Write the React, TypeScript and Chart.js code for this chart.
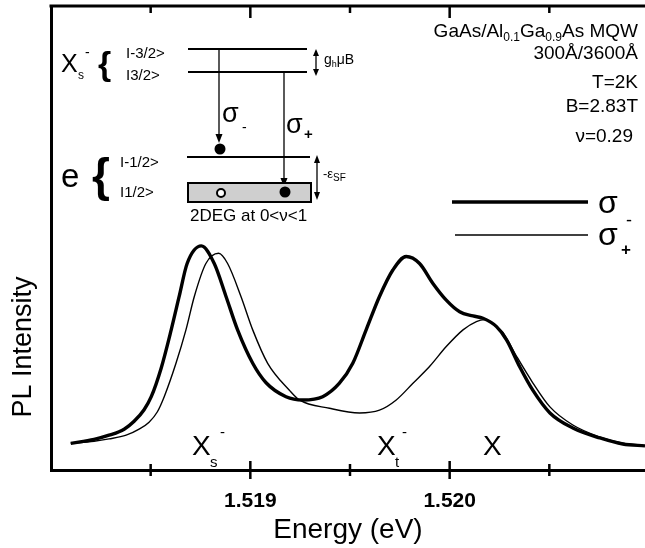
import React, { useEffect, useRef } from "react";
import { Chart, registerables } from "chart.js";

Chart.register(...registerables);

// ---- data ----
const sigmaMinusEnergy = [
  1.518099, 1.518216, 1.518291, 1.518367, 1.518417, 1.518467, 1.518503, 1.518553, 1.518603, 1.518643,
  1.518683, 1.518754, 1.518819, 1.518878, 1.518936, 1.519012, 1.519079, 1.519179, 1.519263,
  1.519363, 1.519447, 1.519514, 1.519581, 1.519648, 1.519715, 1.519782, 1.519849, 1.519916, 1.519983,
  1.52005, 1.520117, 1.520167, 1.520235, 1.520286, 1.520352, 1.520417, 1.520503, 1.520618, 1.520754,
  1.520869, 1.52098,
];
const sigmaMinusIntensity = [
  5.75, 6.6, 7.5, 8.8, 10.5, 13.0, 15.8, 22.0, 30.2, 37.4,
  44.5, 48.3, 44.5, 37.4, 30.2, 23.0, 18.8, 15.8, 15.1,
  15.8, 18.7, 23.0, 30.2, 37.4, 43.1, 46.0, 44.5, 40.2, 36.6,
  34.1, 33.2, 32.7, 30.9, 28.0, 22.2, 17.2, 12.3, 9.05, 6.9,
  5.6, 5.2,
];
const sigmaPlusEnergy = [
  1.518099, 1.518216, 1.518291, 1.518377, 1.518442, 1.518492, 1.518533, 1.518568, 1.518627, 1.518677,
  1.518719, 1.518777, 1.518841, 1.518886, 1.518953, 1.519012, 1.519087, 1.519196, 1.519246, 1.519397,
  1.519548, 1.519648, 1.519732, 1.519816, 1.519899, 1.519983, 1.520067, 1.520134, 1.520176, 1.520235,
  1.520266, 1.520337, 1.520417, 1.520503, 1.520618, 1.520754, 1.520869, 1.52098,
];
const sigmaPlusIntensity = [
  5.75, 6.2, 6.7, 7.5, 8.8, 10.3, 12.5, 15.8, 23.0, 30.2,
  37.4, 44.5, 46.7, 44.5, 37.4, 30.2, 23.0, 17.2, 15.1, 13.3,
  12.3, 12.9, 15.1, 18.7, 22.3, 26.6, 30.2, 32.0, 32.4, 30.9,
  29.7, 24.4, 18.8, 13.6, 9.7, 7.1, 5.8, 5.2,
];
const tickValues = [1.5185, 1.519, 1.5195, 1.52, 1.5205];
const tickLabels = ["", "1.519", "", "1.520", ""];
const majorTicks = [false, true, false, true, false];
const xMin = 1.518;
const xMax = 1.52098;

const FONT = '"Liberation Sans", Arial, Helvetica, sans-serif';
const f = (size: number, bold = false) => `${bold ? "bold " : ""}${size}px ${FONT}`;

type Part = { t: string; s: number; dy?: number; b?: boolean };
function drawParts(ctx: CanvasRenderingContext2D, parts: Part[], x: number, y: number, align: "left" | "right" = "left") {
  let w = 0;
  parts.forEach((p) => {
    ctx.font = f(p.s, p.b);
    w += ctx.measureText(p.t).width;
  });
  let cx = align === "right" ? x - w : x;
  ctx.textAlign = "left";
  ctx.textBaseline = "alphabetic";
  parts.forEach((p) => {
    ctx.font = f(p.s, p.b);
    ctx.fillText(p.t, cx, y + (p.dy || 0));
    cx += ctx.measureText(p.t).width;
  });
}

function line(ctx: CanvasRenderingContext2D, x1: number, y1: number, x2: number, y2: number, w: number) {
  ctx.lineWidth = w;
  ctx.beginPath();
  ctx.moveTo(x1, y1);
  ctx.lineTo(x2, y2);
  ctx.stroke();
}

function head(ctx: CanvasRenderingContext2D, x: number, y: number, dir: number, len = 8, half = 3.5) {
  ctx.beginPath();
  ctx.moveTo(x, y);
  ctx.lineTo(x - half, y - dir * len);
  ctx.lineTo(x + half, y - dir * len);
  ctx.closePath();
  ctx.fill();
}

const annotations = {
  id: "annotations",
  afterDraw(chart: any) {
    const ctx: CanvasRenderingContext2D = chart.ctx;
    const { left, right, top, bottom } = chart.chartArea;
    const xs = chart.scales.x;
    ctx.save();
    ctx.strokeStyle = "#000";
    ctx.fillStyle = "#000";
    ctx.lineCap = "butt";

    // top frame line
    line(ctx, left - 1.5, top, right, top, 3);
    // ticks (top inside, bottom crossing)
    tickValues.forEach((v, i) => {
      const px = xs.getPixelForValue(v);
      const maj = majorTicks[i];
      line(ctx, px, top, px, top + (maj ? 12 : 7), 2.5);
      line(ctx, px, bottom - (maj ? 9 : 6), px, bottom + (maj ? 9 : 6), 2.5);
    });

    // y axis title
    ctx.save();
    ctx.translate(31, 347);
    ctx.rotate(-Math.PI / 2);
    ctx.font = f(27);
    ctx.textAlign = "center";
    ctx.textBaseline = "alphabetic";
    ctx.fillText("PL Intensity", 0, 0);
    ctx.restore();

    // ---- inset level diagram ----
    drawParts(ctx, [{ t: "X", s: 25 }], 61, 72);
    drawParts(ctx, [{ t: "s", s: 12 }], 78, 79);
    drawParts(ctx, [{ t: "-", s: 14 }], 85, 57);
    ctx.font = f(34, true);
    ctx.textAlign = "left";
    ctx.fillText("{", 98, 75);
    drawParts(ctx, [{ t: "I-3/2>", s: 15 }], 126, 58);
    drawParts(ctx, [{ t: "I3/2>", s: 15 }], 126, 80);
    line(ctx, 188, 49, 307, 49, 2);
    line(ctx, 188, 72, 307, 72, 2);
    // g_h mu B double arrow
    line(ctx, 316, 53, 316, 73, 1.3);
    head(ctx, 316, 49, -1, 7, 3);
    head(ctx, 316, 76, 1, 7, 3);
    drawParts(ctx, [{ t: "g", s: 14 }, { t: "h", s: 9, dy: 3 }, { t: "\u03bcB", s: 14 }], 324, 64);

    // sigma- transition
    line(ctx, 219, 49, 219, 136, 1.3);
    head(ctx, 219, 143, 1, 9, 3.5);
    ctx.beginPath();
    ctx.arc(220, 149, 5.5, 0, Math.PI * 2);
    ctx.fill();
    drawParts(ctx, [{ t: "\u03c3", s: 27 }], 222, 122);
    drawParts(ctx, [{ t: "-", s: 14 }], 242, 132);
    // sigma+ transition
    line(ctx, 284, 72, 284, 180, 1.3);
    head(ctx, 284, 187, 1, 9, 3.5);
    drawParts(ctx, [{ t: "\u03c3", s: 27 }], 286, 133);
    drawParts(ctx, [{ t: "+", s: 15, b: true }], 304, 139);

    // electron levels
    drawParts(ctx, [{ t: "e", s: 33 }], 61, 187);
    ctx.font = f(46, true);
    ctx.fillText("{", 92, 191);
    drawParts(ctx, [{ t: "I-1/2>", s: 15 }], 120, 167);
    drawParts(ctx, [{ t: "I1/2>", s: 15 }], 120, 197);
    line(ctx, 187, 157, 310, 157, 2);
    ctx.fillStyle = "#cfcfcf";
    ctx.fillRect(188, 183, 123, 19);
    ctx.fillStyle = "#000";
    ctx.lineWidth = 2;
    ctx.strokeRect(188, 183, 123, 19);
    ctx.beginPath();
    ctx.arc(285, 192, 5.5, 0, Math.PI * 2);
    ctx.fill();
    ctx.fillStyle = "#fff";
    ctx.beginPath();
    ctx.arc(221, 193, 4, 0, Math.PI * 2);
    ctx.fill();
    ctx.fillStyle = "#000";
    ctx.lineWidth = 2;
    ctx.stroke();
    // eps_SF double arrow
    line(ctx, 317, 161, 317, 195, 1.3);
    head(ctx, 317, 155, -1, 8, 3);
    head(ctx, 317, 200, 1, 8, 3);
    drawParts(ctx, [{ t: "-\u03b5", s: 13 }, { t: "SF", s: 10, dy: 3 }], 323, 178);
    drawParts(ctx, [{ t: "2DEG at 0<\u03bd<1", s: 17 }], 190, 221);

    // ---- sample info (top right) ----
    drawParts(
      ctx,
      [
        { t: "GaAs/Al", s: 19 },
        { t: "0.1", s: 12, dy: 4 },
        { t: "Ga", s: 19 },
        { t: "0.9", s: 12, dy: 4 },
        { t: "As MQW", s: 19 },
      ],
      638,
      37,
      "right"
    );
    drawParts(ctx, [{ t: "300\u00c5/3600\u00c5", s: 19 }], 638, 59, "right");
    drawParts(ctx, [{ t: "T=2K", s: 19 }], 638, 88, "right");
    drawParts(ctx, [{ t: "B=2.83T", s: 19 }], 638, 112, "right");
    drawParts(ctx, [{ t: "\u03bd=0.29", s: 19 }], 633, 142, "right");

    // ---- legend ----
    line(ctx, 452, 202, 588, 202, 3.5);
    line(ctx, 455, 235, 588, 235, 1.4);
    drawParts(ctx, [{ t: "\u03c3", s: 32 }], 598, 213);
    drawParts(ctx, [{ t: "-", s: 18 }], 626, 226);
    drawParts(ctx, [{ t: "\u03c3", s: 32 }], 598, 245);
    drawParts(ctx, [{ t: "+", s: 17, b: true }], 621, 255);

    // ---- peak labels ----
    drawParts(ctx, [{ t: "X", s: 28 }], 192, 455);
    drawParts(ctx, [{ t: "s", s: 15 }], 210, 467);
    drawParts(ctx, [{ t: "-", s: 15 }], 220, 437);
    drawParts(ctx, [{ t: "X", s: 28 }], 377, 455);
    drawParts(ctx, [{ t: "t", s: 15 }], 395, 467);
    drawParts(ctx, [{ t: "-", s: 15 }], 402, 437);
    drawParts(ctx, [{ t: "X", s: 28 }], 483, 455);

    ctx.restore();
  },
};

export default function App() {
  const ref = useRef<HTMLCanvasElement | null>(null);
  useEffect(() => {
    if (!ref.current) return;
    const chart = new Chart(ref.current, {
      type: "line",
      data: {
        datasets: [
          {
            label: "\u03c3-",
            data: sigmaMinusEnergy.map((x, i) => ({ x, y: sigmaMinusIntensity[i] })),
            borderColor: "#000",
            borderWidth: 3.4,
            pointRadius: 0,
            cubicInterpolationMode: "monotone",
            fill: false,
          },
          {
            label: "\u03c3+",
            data: sigmaPlusEnergy.map((x, i) => ({ x, y: sigmaPlusIntensity[i] })),
            borderColor: "#000",
            borderWidth: 1.4,
            pointRadius: 0,
            cubicInterpolationMode: "monotone",
            fill: false,
          },
        ],
      },
      options: {
        responsive: false,
        animation: false,
        events: [],
        layout: { padding: { top: 6, right: 0, left: 0, bottom: 0 } },
        plugins: { legend: { display: false }, tooltip: { enabled: false }, title: { display: false } },
        scales: {
          x: {
            type: "linear",
            min: xMin,
            max: xMax,
            afterBuildTicks: (axis: any) => {
              axis.ticks = tickValues.map((v) => ({ value: v }));
            },
            afterFit: (s: any) => {
              s.height = 78;
            },
            ticks: {
              autoSkip: false,
              maxRotation: 0,
              color: "#000",
              padding: 19,
              font: { family: FONT, size: 21, weight: "bold" },
              callback: (_v: any, i: number) => tickLabels[i],
            },
            grid: { display: false, drawTicks: false },
            border: { display: true, color: "#000", width: 3 },
            title: {
              display: true,
              text: "Energy (eV)",
              color: "#000",
              font: { family: FONT, size: 28 },
              padding: { top: 0, bottom: 1 },
            },
          },
          y: {
            min: 0,
            max: 100,
            afterFit: (s: any) => {
              s.width = 51;
            },
            ticks: { display: false },
            grid: { display: false, drawTicks: false },
            border: { display: true, color: "#000", width: 3 },
          },
        },
      } as any,
      plugins: [annotations],
    });
    return () => chart.destroy();
  }, []);
  return (
    <div style={{ position: "absolute", left: 0, top: 0, width: 645, height: 548, background: "#fff" }}>
      <canvas ref={ref} width={645} height={548} />
    </div>
  );
}
